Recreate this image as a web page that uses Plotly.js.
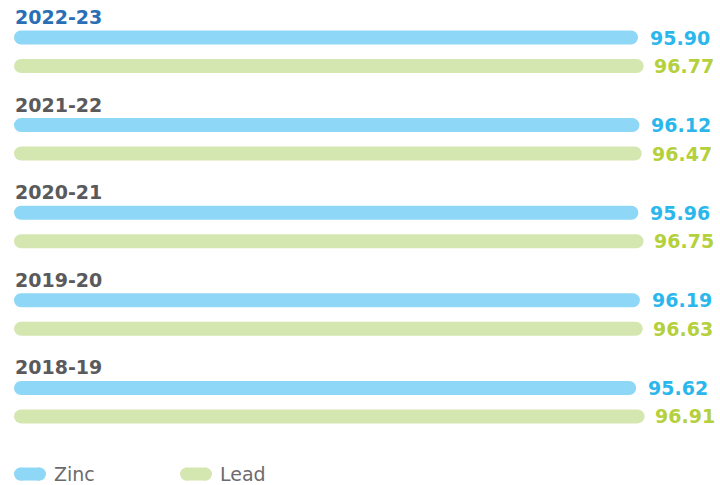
<!DOCTYPE html>
<html>
<head>
<meta charset="utf-8">
<script src="https://cdn.plot.ly/plotly-3.0.1.min.js"></script>
<style>html,body{margin:0;padding:0;background:#fff;}#chart{width:720px;height:485px;}</style>
</head>
<body>
<div id="chart"></div>
<script>
// Data (top to bottom as shown)
var years = ["2022-23", "2021-22", "2020-21", "2019-20", "2018-19"];
var zinc = [95.90, 96.12, 95.96, 96.19, 95.62];
var lead = [96.77, 96.47, 96.75, 96.63, 96.91];
var seriesNames = ["Zinc", "Lead"];

var zincBar = "#8fd7f6", leadBar = "#d5e7b1";
var zincTxt = "#2cb7ec", leadTxt = "#b4d03c";
var yearColors = ["#2a6fb5", "#5a5a5c", "#5a5a5c", "#5a5a5c", "#5a5a5c"];

var idx = years.map(function(_, i){ return i; });
var zinY = idx.map(function(i){ return i; });
var leadY = idx.map(function(i){ return i + 0.325; });
var labY = idx.map(function(i){ return i - 0.235; });
var legY = 4.983;

var FONT = "DejaVu Sans, sans-serif";

var traces = [
  {type: "bar", orientation: "h", x: zinc, y: zinY, width: 0.16, base: 0,
   marker: {color: zincBar, line: {width: 0}}, name: seriesNames[0], hoverinfo: "x"},
  {type: "bar", orientation: "h", x: lead, y: leadY, width: 0.16, base: 0,
   marker: {color: leadBar, line: {width: 0}}, name: seriesNames[1], hoverinfo: "x"}
];

var ann = [];
years.forEach(function(yr, i){
  ann.push({xref: "paper", yref: "y", x: 0, y: labY[i], text: yr, showarrow: false,
    xanchor: "left", yanchor: "middle", xshift: -1,
    font: {family: FONT, size: 19, color: yearColors[i], weight: "bold"}});
  ann.push({xref: "x", yref: "y", x: zinc[i], y: zinY[i], text: zinc[i].toFixed(2), showarrow: false,
    xanchor: "left", yanchor: "middle", xshift: 10,
    font: {family: FONT, size: 19, color: zincTxt, weight: "bold"}});
  ann.push({xref: "x", yref: "y", x: lead[i], y: leadY[i], text: lead[i].toFixed(2), showarrow: false,
    xanchor: "left", yanchor: "middle", xshift: 8,
    font: {family: FONT, size: 19, color: leadTxt, weight: "bold"}});
});

// legend (pills + labels)
var shapes = [];
var legX = [0, 166];
var legCol = [zincBar, leadBar];
seriesNames.forEach(function(nm, k){
  var x0 = legX[k];
  var common = {xref: "paper", yref: "y", xsizemode: "pixel", ysizemode: "pixel",
    xanchor: 0, yanchor: legY, fillcolor: legCol[k], line: {width: 0}, layer: "above"};
  shapes.push(Object.assign({}, common, {type: "rect", x0: x0 + 6, x1: x0 + 26, y0: -6.5, y1: 6.5}));
  shapes.push(Object.assign({}, common, {type: "circle", x0: x0, x1: x0 + 13, y0: -6.5, y1: 6.5}));
  shapes.push(Object.assign({}, common, {type: "circle", x0: x0 + 19, x1: x0 + 32, y0: -6.5, y1: 6.5}));
  ann.push({xref: "paper", yref: "y", x: 0, y: legY, text: nm, showarrow: false,
    xanchor: "left", yanchor: "middle", xshift: x0 + 38,
    font: {family: FONT, size: 19, color: "#6b6b6d"}});
});

var layout = {
  width: 720, height: 485,
  margin: {l: 14, r: 0, t: 0, b: 0, pad: 0},
  paper_bgcolor: "#ffffff", plot_bgcolor: "#ffffff",
  showlegend: false,
  barmode: "overlay",
  barcornerradius: "50%",
  xaxis: {range: [0, 108.5], visible: false, fixedrange: true},
  yaxis: {range: [5.108, -0.428], visible: false, fixedrange: true},
  annotations: ann,
  shapes: shapes
};

Plotly.newPlot("chart", traces, layout, {displayModeBar: false, staticPlot: true});
</script>
</body>
</html>
